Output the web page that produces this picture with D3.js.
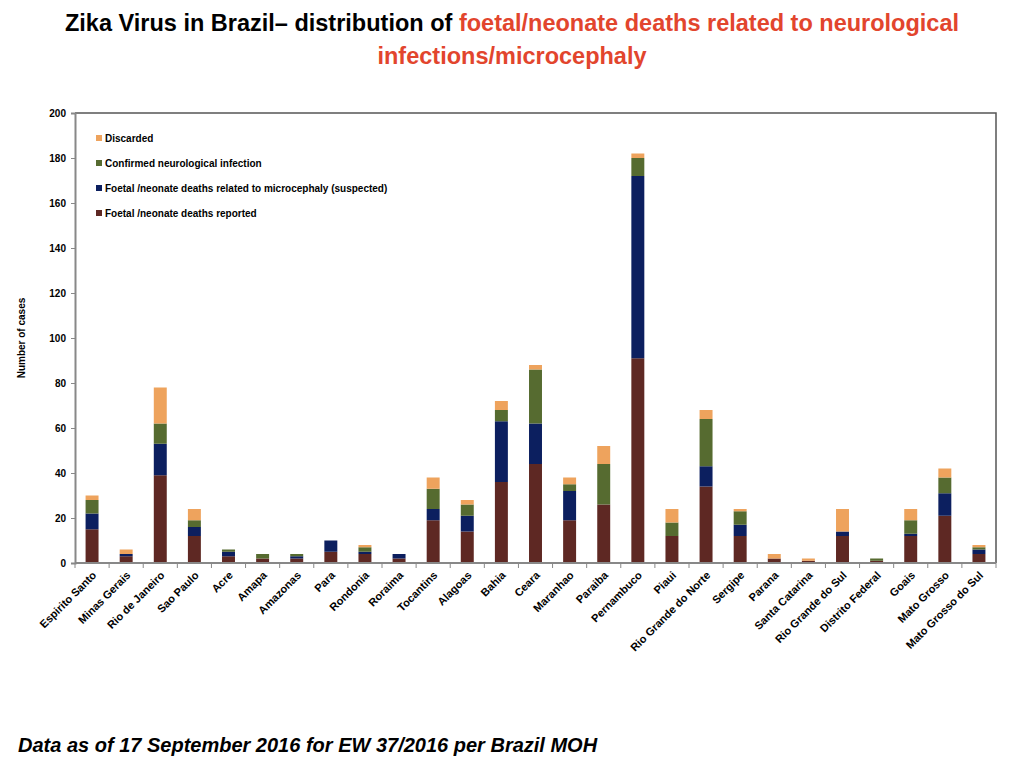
<!DOCTYPE html>
<html>
<head>
<meta charset="utf-8">
<script src="https://cdn.jsdelivr.net/npm/d3@7"></script>
<style>
  body { margin: 0; background: #fff; }
  svg { font-family: "Liberation Sans", Arial, Helvetica, sans-serif; }
</style>
</head>
<body>
<div id="chart"></div>
<script>
(function() {
  'use strict';

  var states = ['Espirito Santo', 'Minas Gerais', 'Rio de Janeiro', 'Sao Paulo', 'Acre',
    'Amapa', 'Amazonas', 'Para', 'Rondonia', 'Roraima', 'Tocantins', 'Alagoas', 'Bahia',
    'Ceara', 'Maranhao', 'Paraiba', 'Pernambuco', 'Piaui', 'Rio Grande do Norte', 'Sergipe',
    'Parana', 'Santa Catarina', 'Rio Grande do Sul', 'Distrito Federal', 'Goais',
    'Mato Grosso', 'Mato Grosso do Sul'];

  var reported    = [15, 3, 39, 12, 3, 2, 2, 5, 4, 2, 19, 14, 36, 44, 19, 26, 91, 12, 34, 12, 2, 1, 12, 1, 12, 21, 4];
  var suspected   = [7, 1, 14, 4, 2, 0, 1, 5, 1, 2, 5, 7, 27, 18, 13, 0, 81, 0, 9, 5, 0, 0, 2, 0, 1, 10, 2];
  var confirmed   = [6, 0, 9, 3, 1, 2, 1, 0, 2, 0, 9, 5, 5, 24, 3, 18, 8, 6, 21, 6, 0, 0, 0, 1, 6, 7, 1];
  var discarded   = [2, 2, 16, 5, 0, 0, 0, 0, 1, 0, 5, 2, 4, 2, 3, 8, 2, 6, 4, 1, 2, 1, 10, 0, 5, 4, 1];

  var yTicks = [0, 20, 40, 60, 80, 100, 120, 140, 160, 180, 200];

  var series = [
    { key: 'reported', label: 'Foetal /neonate deaths reported', color: '#5e2823', values: reported },
    { key: 'suspected', label: 'Foetal /neonate deaths related to microcephaly (suspected)', color: '#0c1f5f', values: suspected },
    { key: 'confirmed', label: 'Confirmed neurological  infection', color: '#566b30', values: confirmed },
    { key: 'discarded', label: 'Discarded', color: '#eea35d', values: discarded }
  ];

  var width = 1024, height = 768;
  var margin = { left: 75, right: 28, top: 113, bottom: 205 };
  var plotW = width - margin.left - margin.right;
  var plotH = height - margin.top - margin.bottom;

  var svg = d3.select('#chart')
    .append('svg')
    .attr('width', width)
    .attr('height', height);

  // title
  var title = svg.append('text')
    .attr('x', 512)
    .attr('y', 31)
    .attr('text-anchor', 'middle')
    .style('font-size', '23.5px')
    .style('font-weight', 'bold');
  title.append('tspan').attr('fill', '#000').text('Zika Virus in Brazil\u2013  distribution of ');
  title.append('tspan').attr('fill', '#e2452d').text('foetal/neonate deaths related to neurological');

  svg.append('text')
    .attr('x', 512)
    .attr('y', 64)
    .attr('text-anchor', 'middle')
    .attr('fill', '#e2452d')
    .style('font-size', '23.5px')
    .style('font-weight', 'bold')
    .text('infections/microcephaly');

  var table = states.map(function(s, i) {
    var row = { state: s };
    series.forEach(function(sr) { row[sr.key] = sr.values[i]; });
    return row;
  });

  var stack = d3.stack().keys(series.map(function(s) { return s.key; }));
  var stacked = stack(table);

  var x = d3.scaleBand()
    .domain(states)
    .range([0, plotW])
    .paddingInner(0.62)
    .paddingOuter(0.31);

  var y = d3.scaleLinear()
    .domain([0, 200])
    .range([plotH, 0]);

  var g = svg.append('g')
    .attr('transform', 'translate(' + margin.left + ',' + margin.top + ')');

  // frame (top & right)
  g.append('path')
    .attr('d', 'M0,0H' + plotW + 'V' + plotH)
    .attr('fill', 'none')
    .attr('stroke', '#555')
    .attr('stroke-width', 1.5);

  g.selectAll('.layer')
    .data(stacked)
    .enter()
    .append('g')
    .attr('class', 'layer')
    .attr('fill', function(d, i) { return series[i].color; })
    .selectAll('rect')
    .data(function(d) { return d; })
    .enter()
    .append('rect')
    .attr('x', function(d) { return x(d.data.state); })
    .attr('width', x.bandwidth())
    .attr('y', function(d) { return y(d[1]); })
    .attr('height', function(d) { return y(d[0]) - y(d[1]); });

  // y axis
  var yAxis = g.append('g')
    .call(d3.axisLeft(y).tickValues(yTicks).tickSize(4).tickPadding(5));
  yAxis.select('.domain').attr('stroke', '#888').attr('stroke-width', 2);
  yAxis.selectAll('.tick line').attr('stroke', '#888');
  yAxis.selectAll('.tick text')
    .style('font-size', '10px')
    .style('font-weight', 'bold')
    .attr('fill', '#000');

  // x axis: ticks at category boundaries
  var step = x.step();
  var start = x(states[0]) - step * x.paddingOuter();
  var boundaries = d3.range(states.length + 1).map(function(i) { return start + i * step; });
  var xAxisG = g.append('g').attr('transform', 'translate(0,' + plotH + ')');
  xAxisG.append('line')
    .attr('x1', 0).attr('x2', plotW)
    .attr('stroke', '#888').attr('stroke-width', 2);
  xAxisG.selectAll('.xtick')
    .data(boundaries)
    .enter()
    .append('line')
    .attr('class', 'xtick')
    .attr('x1', function(d) { return d; })
    .attr('x2', function(d) { return d; })
    .attr('y1', 0).attr('y2', 5)
    .attr('stroke', '#888');

  xAxisG.selectAll('.xlabel')
    .data(states)
    .enter()
    .append('text')
    .attr('class', 'xlabel')
    .attr('text-anchor', 'end')
    .attr('transform', function(d) {
      return 'translate(' + (x(d) + x.bandwidth() / 2 + 5) + ',13) rotate(-45)';
    })
    .style('font-size', '11px')
    .style('font-weight', 'bold')
    .text(function(d) { return d; });

  // y axis title
  svg.append('text')
    .attr('transform', 'translate(25,338) rotate(-90)')
    .attr('text-anchor', 'middle')
    .style('font-size', '10px')
    .style('font-weight', 'bold')
    .text('Number of cases');

  // legend (top item first)
  var legend = g.selectAll('.legend')
    .data(series.slice().reverse())
    .enter()
    .append('g')
    .attr('class', 'legend')
    .attr('transform', function(d, i) { return 'translate(21,' + (25 + i * 25) + ')'; });
  legend.append('rect')
    .attr('x', 0).attr('y', -3)
    .attr('width', 6).attr('height', 6)
    .attr('fill', function(d) { return d.color; });
  legend.append('text')
    .attr('x', 9)
    .attr('dy', '0.35em')
    .style('font-size', '10px')
    .style('font-weight', 'bold')
    .text(function(d) { return d.label; });

  // footnote
  svg.append('text')
    .attr('x', 18)
    .attr('y', 752)
    .style('font-size', '20px')
    .style('font-weight', 'bold')
    .style('font-style', 'italic')
    .text('Data as of 17 September 2016 for EW 37/2016 per Brazil MOH');
})();
</script>
</body>
</html>
